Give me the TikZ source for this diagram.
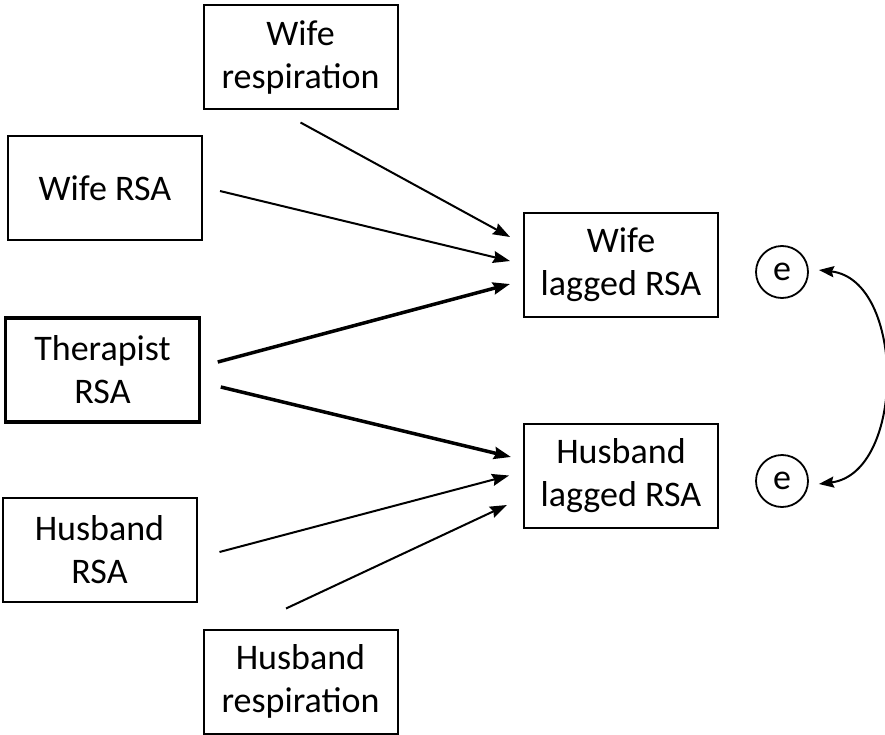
\documentclass[tikz,border=0pt]{standalone}
\usepackage{fontspec}
\setmainfont{Carlito}
\usetikzlibrary{arrows.meta,calc}
\tikzset{
  box/.style={draw, line width=2pt, minimum width=194pt, minimum height=104pt, align=center, inner sep=0pt,
    font=\fontsize{36}{43}\selectfont},
  thickbox/.style={box, line width=3.5pt},
  err/.style={draw, circle, line width=1.8pt, minimum size=52pt, inner sep=0pt, font=\fontsize{36}{43}\selectfont},
  path/.style={line width=2pt, -{Stealth[length=17pt,width=12pt,inset=2pt]}},
  thickpath/.style={line width=3.5pt, -{Stealth[length=17pt,width=12pt,inset=2pt]}},
  cov/.style={line width=2pt, {Stealth[length=15pt,width=11pt,inset=2pt]}-{Stealth[length=15pt,width=11pt,inset=2pt]}}
}
\begin{document}
\begin{tikzpicture}[x=1pt,y=1pt]
\useasboundingbox (0,0) rectangle (885,-735);
\node[box] (wr) at (300.5,-57.5) {Wife\\respiration};
\node[box] (wrsa) at (105,-188) {Wife RSA};
\node[thickbox] (th) at (102.5,-370) {Therapist\\RSA};
\node[box] (hrsa) at (99.5,-550) {Husband\\RSA};
\node[box] (hresp) at (300.5,-681.5) {Husband\\respiration};
\node[box] (wl) at (621,-265) {Wife\\lagged RSA};
\node[box] (hl) at (621,-475.5) {Husband\\lagged RSA};
\node[err] (e1) at (782,-272) {e};
\node[err] (e2) at (782,-481) {e};

\draw[path] ([shift={(0,-12)}]wr.south) -- ([shift={(-13,28)}]wl.west);
\draw[path] ([shift={(17,-3)}]wrsa.east) -- ([shift={(-13,4)}]wl.west);
\draw[thickpath] ([shift={(16.5,8)}]th.east) -- ([shift={(-13,-19)}]wl.west);
\draw[thickpath] ([shift={(19.5,-17)}]th.east) -- ([shift={(-12,18.5)}]hl.west);
\draw[path] ([shift={(22,-2)}]hrsa.east) -- ([shift={(-14,0)}]hl.west);
\draw[path] ([shift={(-14.5,20)}]hresp.north) -- ([shift={(-16,-29.5)}]hl.west);

\draw[cov] ([shift={(10,2)}]e1.east) .. controls ($(e1.east)+(97,-8)$) and ($(e2.east)+(97,8)$) .. ([shift={(10,-3)}]e2.east);
\end{tikzpicture}
\end{document}
